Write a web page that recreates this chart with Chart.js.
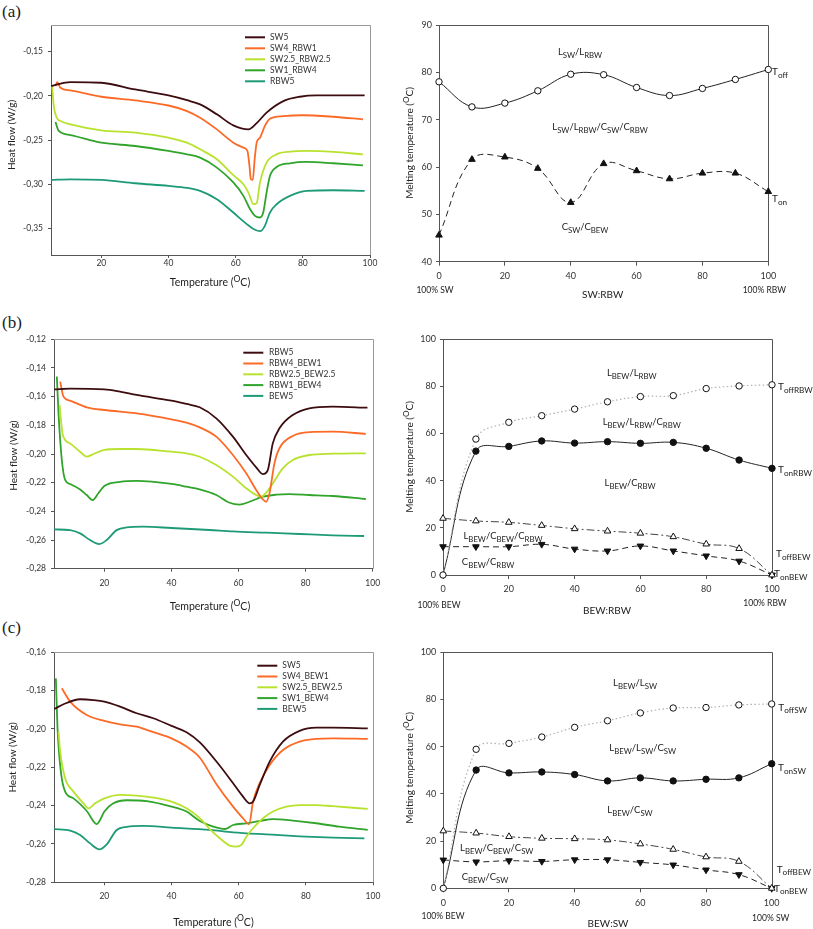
<!DOCTYPE html>
<html lang="en">
<head>
<meta charset="UTF-8">
<title>DSC curves and melting temperatures</title>
<script src="https://cdn.jsdelivr.net/npm/chart.js"></script>
<style>
  body { margin: 0; background: #fff; }
  #page { position: relative; width: 813px; height: 929px; overflow: hidden; }
  canvas { position: absolute; }
  .tag { position: absolute; font-family: "Liberation Serif", serif; font-size: 17px; color: #222; }
</style>
</head>
<body>
<div id="page">
  <div class="tag" style="left:2px;top:2px">(a)</div>
  <div class="tag" style="left:2px;top:313px">(b)</div>
  <div class="tag" style="left:2px;top:618px">(c)</div>
  <canvas id="aDsc" width="400" height="300" style="left:0;top:0"></canvas>
  <canvas id="aMelt" width="413" height="300" style="left:400px;top:0"></canvas>
  <canvas id="bDsc" width="400" height="315" style="left:0;top:300px"></canvas>
  <canvas id="bMelt" width="413" height="315" style="left:400px;top:300px"></canvas>
  <canvas id="cDsc" width="400" height="319" style="left:0;top:610px"></canvas>
  <canvas id="cMelt" width="413" height="319" style="left:400px;top:610px"></canvas>
</div>

<script>
// ---- tick labels ----
const dscTicksX = [20, 40, 60, 80, 100];
const aTicksY = [-0.35, -0.30, -0.25, -0.20, -0.15];
const bTicksY = [-0.28, -0.26, -0.24, -0.22, -0.20, -0.18, -0.16, -0.14, -0.12];
const cTicksY = [-0.28, -0.26, -0.24, -0.22, -0.20, -0.18, -0.16];
const meltTicksX = [0, 20, 40, 60, 80, 100];
const aMeltTicksY = [40, 50, 60, 70, 80, 90];
const bcMeltTicksY = [0, 20, 40, 60, 80, 100];

// ---- (a) DSC, SW:RBW blends ----
const aNames = ['SW5', 'SW4_RBW1', 'SW2.5_RBW2.5', 'SW1_RBW4', 'RBW5'];
const aSW5_t = [5.05, 10.8, 20, 30.1, 40, 45.5, 49.4, 54.4, 59.3, 63.8, 66.25, 69.2, 74.2, 79.1, 84.1, 89, 98.4];
const aSW5 = [-0.189, -0.1846, -0.1853, -0.1929, -0.1996, -0.205, -0.2098, -0.221, -0.2335, -0.238, -0.231, -0.219, -0.206, -0.2011, -0.1996, -0.1996, -0.1996];
const aSW4_t = [6.33, 6.83, 7.82, 10.8, 20, 30.1, 40, 45.5, 49.4, 54.4, 59.3, 62.3, 63.5, 64.1, 64.5, 65.1, 65.65, 66.25, 67.24, 68.7, 70.2, 74.2, 79.8, 89, 97.9];
const aSW4 = [-0.189, -0.1846, -0.191, -0.194, -0.2011, -0.2053, -0.211, -0.2173, -0.2248, -0.238, -0.253, -0.2586, -0.2624, -0.279, -0.294, -0.295, -0.2718, -0.253, -0.2474, -0.234, -0.226, -0.223, -0.222, -0.2237, -0.2267];
const aSW25_t = [5.34, 5.84, 6.83, 7.82, 10.8, 20, 30.1, 40, 45.5, 49.4, 54.4, 59.3, 62.3, 63.8, 65.3, 66.25, 67.24, 69.2, 72.2, 76.15, 81.1, 89, 97.9];
const aSW25 = [-0.189, -0.2117, -0.2256, -0.2286, -0.2323, -0.239, -0.2417, -0.2474, -0.253, -0.2605, -0.2718, -0.2898, -0.30, -0.3094, -0.3226, -0.3214, -0.298, -0.2756, -0.2662, -0.2632, -0.2624, -0.2635, -0.2662];
const aSW1_t = [6.33, 7.32, 10.8, 20, 30.1, 40, 45.5, 49.4, 54.4, 59.3, 62.3, 64.3, 65.75, 67.24, 68.2, 69.2, 70.2, 72.2, 76.15, 81.1, 89, 97.9];
const aSW1 = [-0.2297, -0.2398, -0.2444, -0.253, -0.2568, -0.2624, -0.2662, -0.27, -0.2812, -0.298, -0.3132, -0.3282, -0.3357, -0.3376, -0.332, -0.3094, -0.2906, -0.2805, -0.2763, -0.2748, -0.2763, -0.2786];
const aRBW5_t = [5.05, 10.8, 20, 30.1, 40, 45.5, 49.4, 54.4, 59.3, 63.3, 65.75, 67.24, 68.7, 70.2, 72.2, 76.15, 81.1, 89, 98.4];
const aRBW5 = [-0.2951, -0.2944, -0.2951, -0.2989, -0.3019, -0.3041, -0.3075, -0.3169, -0.332, -0.3451, -0.3515, -0.353, -0.347, -0.332, -0.3226, -0.3132, -0.3075, -0.3068, -0.3075];

// ---- (b) DSC, RBW:BEW blends ----
const bNames = ['RBW5', 'RBW4_BEW1', 'RBW2.5_BEW2.5', 'RBW1_BEW4', 'BEW5'];
const bRBW5_t = [5.06, 9.81, 20, 24.66, 29.62, 40, 44.47, 48.43, 53.38, 58.33, 62.3, 65.27, 67.25, 68.73, 70.22, 72.2, 76.16, 81.11, 88.04, 98.44];
const bRBW5 = [-0.1549, -0.1544, -0.1549, -0.1565, -0.1588, -0.1628, -0.1651, -0.1674, -0.1751, -0.1879, -0.2007, -0.2093, -0.214, -0.2112, -0.1926, -0.1821, -0.1728, -0.1681, -0.167, -0.1677];
const bRBW4_t = [6.84, 7.83, 9.81, 14.76, 20, 29.62, 40, 44.47, 48.43, 53.38, 58.33, 62.3, 65.27, 67.25, 68.24, 69.23, 70.71, 72.2, 76.16, 81.11, 88.04, 97.95];
const bRBW4 = [-0.1495, -0.16, -0.1628, -0.1674, -0.1693, -0.1716, -0.1758, -0.1781, -0.1814, -0.1879, -0.2007, -0.2135, -0.2251, -0.2316, -0.2333, -0.2274, -0.2065, -0.196, -0.1874, -0.1847, -0.1844, -0.186];
const bRBW25_t = [6.64, 7.63, 9.81, 12.78, 14.76, 16.74, 20, 24.66, 29.62, 40, 44.47, 48.43, 53.38, 58.33, 62.3, 65.27, 66.75, 68.24, 70.22, 73.19, 76.16, 81.11, 88.04, 97.95];
const bRBW25 = [-0.1658, -0.1867, -0.1926, -0.1984, -0.2019, -0.20, -0.1972, -0.1965, -0.1965, -0.1984, -0.1995, -0.2019, -0.2077, -0.2158, -0.2239, -0.2286, -0.2298, -0.227, -0.2205, -0.21, -0.2042, -0.2007, -0.1998, -0.1995];
const bRBW1_t = [5.85, 6.34, 7.33, 8.32, 9.81, 12.78, 14.76, 16.54, 18.23, 20, 24.66, 29.62, 40, 44.47, 48.43, 53.38, 57.34, 60.31, 63.29, 67.25, 71.21, 75.17, 81.11, 88.04, 97.95];
const bRBW1 = [-0.146, -0.1716, -0.2042, -0.2181, -0.2209, -0.2247, -0.2286, -0.2321, -0.2274, -0.2223, -0.2195, -0.2188, -0.2209, -0.2228, -0.2247, -0.2286, -0.234, -0.2353, -0.2333, -0.2298, -0.2284, -0.228, -0.2286, -0.2293, -0.2314];
const bBEW5_t = [5.06, 9.81, 12.78, 15.75, 18.52, 20.7, 23.67, 26.65, 31.6, 40, 51.4, 58.33, 68.24, 78.14, 88.04, 97.45];
const bBEW5 = [-0.2526, -0.2531, -0.2554, -0.26, -0.2628, -0.26, -0.2531, -0.2512, -0.2507, -0.2516, -0.253, -0.254, -0.2549, -0.2558, -0.2567, -0.2572];

// ---- (c) DSC, SW:BEW blends ----
const cNames = ['SW5', 'SW4_BEW1', 'SW2.5_BEW2.5', 'SW1_BEW4', 'BEW5'];
const cSW5_t = [5.06, 7.83, 12.78, 16.74, 20, 24.66, 29.62, 34.57, 40, 44.47, 48.43, 53.38, 58.33, 61.3, 63.29, 64.27, 66.26, 69.23, 73.19, 78.14, 83.09, 88.04, 98.44];
const cSW5 = [-0.1896, -0.1871, -0.1845, -0.1849, -0.1857, -0.1883, -0.1918, -0.1944, -0.1984, -0.2017, -0.207, -0.217, -0.2283, -0.2353, -0.2388, -0.238, -0.2292, -0.217, -0.2066, -0.201, -0.1993, -0.1993, -0.1997];
const cSW4_t = [7.33, 9.81, 14.76, 20, 24.66, 29.62, 32.59, 34.57, 40, 44.47, 48.43, 53.38, 58.33, 61.3, 63.09, 64.27, 66.26, 69.23, 73.19, 78.14, 83.09, 88.04, 98.44];
const cSW4 = [-0.1788, -0.1857, -0.1927, -0.1958, -0.1976, -0.1988, -0.2005, -0.2017, -0.2049, -0.2092, -0.215, -0.2288, -0.2405, -0.2466, -0.2497, -0.238, -0.2283, -0.2188, -0.211, -0.2066, -0.2052, -0.2049, -0.2052];
const cSW25_t = [6.34, 6.84, 8.32, 10.8, 13.77, 15.26, 17.24, 20, 24.66, 29.62, 34.57, 40, 44.47, 48.43, 51.4, 54.37, 57.34, 59.32, 60.81, 62.3, 64.27, 67.25, 70.22, 74.18, 78.14, 83.09, 88.04, 98.44];
const cSW25 = [-0.2014, -0.2118, -0.2257, -0.2327, -0.2388, -0.2414, -0.2388, -0.2362, -0.2344, -0.2348, -0.2358, -0.2379, -0.2414, -0.2466, -0.2522, -0.257, -0.2609, -0.2614, -0.2605, -0.2562, -0.2518, -0.2466, -0.2431, -0.2405, -0.2397, -0.2397, -0.2403, -0.2417];
const cSW1_t = [5.55, 6.05, 7.04, 8.32, 10.8, 14.76, 17.73, 18.72, 20, 22.68, 26.65, 32.59, 40, 44.47, 48.43, 52.39, 55.86, 58.33, 62.3, 66.26, 70.22, 76.16, 83.09, 90.02, 98.44];
const cSW1 = [-0.1736, -0.1997, -0.2223, -0.2327, -0.2362, -0.2428, -0.2496, -0.2475, -0.2431, -0.2388, -0.2372, -0.2376, -0.2405, -0.2431, -0.248, -0.2509, -0.2522, -0.2501, -0.2492, -0.248, -0.247, -0.2478, -0.2492, -0.251, -0.2527];
const cBEW5_t = [5.06, 9.81, 12.78, 15.75, 18.52, 20.7, 23.67, 26.65, 31.6, 40, 51.4, 58.33, 68.24, 78.14, 88.04, 97.45];
const cBEW5 = [-0.2523, -0.253, -0.2553, -0.2597, -0.2628, -0.2602, -0.2527, -0.2511, -0.2506, -0.2515, -0.2527, -0.2539, -0.255, -0.256, -0.2567, -0.2571];

// ---- melting temperatures vs blend ratio ----
const ratio = [0, 10, 20, 30, 40, 50, 60, 70, 80, 90, 100];
const aToff = [78.0, 72.7, 73.5, 76.1, 79.6, 79.5, 76.8, 75.1, 76.6, 78.5, 80.6];
const aTon = [45.6, 61.6, 62.1, 59.7, 52.5, 60.7, 59.2, 57.5, 58.7, 58.7, 54.8];
const bToffRBW = [0, 57.6, 64.7, 67.5, 70.3, 73.4, 75.6, 76.0, 79.0, 80.1, 80.6];
const bTonRBW = [0, 52.5, 54.5, 56.8, 55.9, 56.5, 55.8, 56.2, 53.7, 48.7, 45.2];
const bToffBEW = [24.0, 22.9, 22.3, 21.0, 19.6, 18.6, 17.7, 16.2, 13.1, 11.2, 0];
const bTonBEW = [12.0, 12.0, 12.0, 13.0, 11.0, 10.2, 12.3, 10.2, 8.1, 5.9, 0];
const cToffSW = [0, 58.9, 61.4, 64.1, 68.2, 71.0, 74.3, 76.4, 76.6, 77.7, 78.1];
const cTonSW = [0, 50.1, 48.9, 49.3, 48.2, 45.5, 46.8, 45.5, 46.2, 46.8, 52.8];
const cToffBEW = [24.3, 23.4, 21.9, 21.2, 21.0, 20.5, 18.8, 16.5, 13.3, 11.4, 0];
const cTonBEW = [12.0, 11.2, 11.7, 11.4, 12.1, 12.1, 11.0, 9.9, 7.8, 5.8, 0];

const curveColors = ['#3d0c10', '#fc6a26', '#b9e22e', '#30a42b', '#1d9a76'];
const FONT = 'Lato, "Open Sans", sans-serif';

// text with _{sub} and ^{sup} parts
function parseRich(str) {
  const parts = [];
  const re = /([_^])\{([^}]*)\}|([^_^]+)/g;
  let m;
  while ((m = re.exec(str))) {
    if (m[3]) parts.push({ t: m[3], k: 'n' });
    else parts.push({ t: m[2], k: m[1] === '_' ? 'sub' : 'sup' });
  }
  return parts;
}

function drawRich(ctx, str, x, y, size, align, color) {
  const parts = parseRich(str);
  const small = size * 0.82;
  let w = 0;
  parts.forEach(p => {
    ctx.font = (p.k === 'n' ? size : small) + 'px ' + FONT;
    p.w = ctx.measureText(p.t).width;
    w += p.w;
  });
  let cx = align === 'center' ? x - w / 2 : (align === 'right' ? x - w : x);
  ctx.fillStyle = color || '#222';
  ctx.textBaseline = 'middle';
  ctx.textAlign = 'left';
  parts.forEach(p => {
    ctx.font = (p.k === 'n' ? size : small) + 'px ' + FONT;
    const dy = p.k === 'sub' ? size * 0.35 : (p.k === 'sup' ? -size * 0.4 : 0);
    ctx.fillText(p.t, cx, y + dy);
    cx += p.w;
  });
}

// frame, titles, annotations and legend
function decor(d) {
  return {
    id: 'decor',
    beforeDatasetsDraw(chart) {
      const a = chart.chartArea, ctx = chart.ctx;
      const t = Math.round(a.top) + 0.5, r = Math.round(a.right) + 0.5;
      ctx.save();
      ctx.strokeStyle = d.frame;
      ctx.lineWidth = 1;
      ctx.beginPath();
      ctx.moveTo(a.left, t);
      ctx.lineTo(r, t);
      ctx.lineTo(r, a.bottom);
      ctx.stroke();
      ctx.restore();
    },
    afterDraw(chart) {
      const ctx = chart.ctx;
      ctx.save();
      (d.texts || []).forEach(tx => {
        if (tx.rot) {
          ctx.save();
          ctx.translate(tx.x, tx.y);
          ctx.rotate(-Math.PI / 2);
          drawRich(ctx, tx.s, 0, 0, tx.size, 'center', '#222');
          ctx.restore();
        } else {
          drawRich(ctx, tx.s, tx.x, tx.y, tx.size, tx.align || 'center', '#222');
        }
      });
      if (d.legend) {
        const L = d.legend;
        chart.data.datasets.forEach((ds, i) => {
          const y = L.y + i * L.step;
          ctx.strokeStyle = ds.borderColor;
          ctx.lineWidth = 2;
          ctx.beginPath();
          ctx.moveTo(L.x, y);
          ctx.lineTo(L.x + 20, y);
          ctx.stroke();
          ctx.fillStyle = '#333';
          ctx.font = '8.5px ' + FONT;
          ctx.textAlign = 'left';
          ctx.textBaseline = 'middle';
          ctx.fillText(ds.label, L.tx, y);
        });
      }
      ctx.restore();
    }
  };
}

function axis(min, max, ticks, fmt, size, fit, tl, pad) {
  return {
    type: 'linear',
    min: min,
    max: max,
    afterBuildTicks: s => { s.ticks = ticks.map(v => ({ value: v })); },
    afterFit: fit,
    grid: { drawOnChartArea: false, drawTicks: true, tickLength: tl, color: '#555' },
    border: { display: true, color: '#555', width: 1 },
    ticks: { color: '#333', font: { family: FONT, size: size }, padding: pad, maxRotation: 0, autoSkip: false, callback: fmt }
  };
}

const comma = v => v.toFixed(2).replace('.', ',');
const plain = v => String(v);

function dscChart(id, names, ts, vs, yMin, yMax, yTicks, lay, deco) {
  new Chart(document.getElementById(id), {
    type: 'line',
    data: {
      datasets: names.map((n, i) => ({
        label: n,
        data: ts[i].map((t, j) => ({ x: t, y: vs[i][j] })),
        borderColor: curveColors[i],
        borderWidth: 1.8,
        pointRadius: 0,
        cubicInterpolationMode: 'monotone',
        fill: false
      }))
    },
    options: {
      responsive: false,
      animation: false,
      layout: { padding: { left: 0, right: lay.right, top: lay.top, bottom: 0 } },
      plugins: { legend: { display: false }, tooltip: { enabled: false } },
      scales: {
        x: axis(5, 100, dscTicksX, plain, 8.5, s => { s.height = lay.xh; }, 3, lay.xpad),
        y: axis(yMin, yMax, yTicks, comma, 8.5, s => { s.width = lay.yw; }, 3, 5)
      }
    },
    plugins: [decor(deco)]
  });
}

function meltSet(label, values, kind) {
  const base = {
    label: label,
    data: ratio.map((r, j) => ({ x: r, y: values[j] })),
    borderWidth: 1,
    tension: 0.4,
    clip: false,
    pointBorderColor: '#111',
    pointBorderWidth: 1,
    pointRadius: 3.2,
    fill: false
  };
  const k = {
    offSolid: { borderColor: '#222', pointStyle: 'circle', pointBackgroundColor: '#fff' },
    onDashUp: { borderColor: '#222', borderDash: [6, 4], pointStyle: 'triangle', pointRadius: 3.8, pointBackgroundColor: '#111' },
    offDotted: { borderColor: '#b0b0b0', borderDash: [1.5, 2.5], borderWidth: 1.2, pointStyle: 'circle', pointBackgroundColor: '#fff' },
    onSolid: { borderColor: '#222', pointStyle: 'circle', pointBackgroundColor: '#111', pointRadius: c => (c.dataIndex === 0 ? 0 : 3.2) },
    offDashDot: { borderColor: '#444', borderDash: [8, 3, 2, 3], pointStyle: 'triangle', pointRadius: 3.8, pointBackgroundColor: '#fff' },
    onDashDown: { borderColor: '#222', borderDash: [6, 4], pointStyle: 'triangle', pointRotation: 180, pointRadius: 3.8, pointBackgroundColor: '#111' }
  }[kind];
  return Object.assign(base, k);
}

function meltChart(id, sets, yMin, yMax, yTicks, lay, deco) {
  new Chart(document.getElementById(id), {
    type: 'line',
    data: { datasets: sets },
    options: {
      responsive: false,
      animation: false,
      layout: { padding: { left: 0, right: lay.right, top: lay.top, bottom: 0 } },
      plugins: { legend: { display: false }, tooltip: { enabled: false } },
      scales: {
        x: axis(0, 100, meltTicksX, plain, 9, s => { s.height = lay.xh; }, 4, lay.xpad),
        y: axis(yMin, yMax, yTicks, plain, 9, s => { s.width = lay.yw; }, 3, 4)
      }
    },
    plugins: [decor(deco)]
  });
}

// ---- (a) ----
dscChart('aDsc', aNames, [aSW5_t, aSW4_t, aSW25_t, aSW1_t, aRBW5_t], [aSW5, aSW4, aSW25, aSW1, aRBW5],
  -0.38, -0.12, aTicksY,
  { yw: 51, xh: 45, top: 25, right: 30, xpad: 0 },
  {
    frame: '#999',
    legend: { x: 245, tx: 270, y: 37.3, step: 11 },
    texts: [
      { s: 'Heat flow (W/g)', x: 12, y: 135, size: 10, rot: true },
      { s: 'Temperature (^{O}C)', x: 210, y: 283, size: 10.5 }
    ]
  });

meltChart('aMelt', [meltSet('Toff', aToff, 'offSolid'), meltSet('Ton', aTon, 'onDashUp')],
  40, 90, aMeltTicksY,
  { yw: 39, xh: 38.3, top: 25, right: 44.7, xpad: 5 },
  {
    frame: '#555',
    texts: [
      { s: 'Melting temperature (^{O}C)', x: 10, y: 143, size: 10, rot: true },
      { s: 'SW:RBW', x: 202.7, y: 295, size: 10 },
      { s: '100% SW', x: 35, y: 290, size: 8.5 },
      { s: '100% RBW', x: 364.3, y: 290, size: 8.5 },
      { s: 'L_{SW}/L_{RBW}', x: 180, y: 52, size: 9.5 },
      { s: 'L_{SW}/L_{RBW}/C_{SW}/C_{RBW}', x: 200, y: 127, size: 9.5 },
      { s: 'C_{SW}/C_{BEW}', x: 185, y: 227, size: 9.5 },
      { s: 'T_{off}', x: 372, y: 72, size: 10, align: 'left' },
      { s: 'T_{on}', x: 372, y: 199, size: 10, align: 'left' }
    ]
  });

// ---- (b) ----
dscChart('bDsc', bNames, [bRBW5_t, bRBW4_t, bRBW25_t, bRBW1_t, bBEW5_t], [bRBW5, bRBW4, bRBW25, bRBW1, bBEW5],
  -0.28, -0.12, bTicksY,
  { yw: 54, xh: 46.3, top: 39.3, right: 27.3, xpad: 6 },
  {
    frame: '#999',
    legend: { x: 243.3, tx: 269, y: 52.7, step: 10.8 },
    texts: [
      { s: 'Heat flow (W/g)', x: 14, y: 155.6, size: 10, rot: true },
      { s: 'Temperature (^{O}C)', x: 210, y: 307, size: 10.5 }
    ]
  });

meltChart('bMelt', [
    meltSet('ToffRBW', bToffRBW, 'offDotted'),
    meltSet('TonRBW', bTonRBW, 'onSolid'),
    meltSet('ToffBEW', bToffBEW, 'offDashDot'),
    meltSet('TonBEW', bTonBEW, 'onDashDown')
  ],
  0, 100, bcMeltTicksY,
  { yw: 43, xh: 40, top: 39, right: 41, xpad: 5 },
  {
    frame: '#555',
    texts: [
      { s: 'Melting temperature (^{O}C)', x: 10, y: 157, size: 10, rot: true },
      { s: 'BEW:RBW', x: 207, y: 311, size: 10 },
      { s: '100% BEW', x: 39, y: 305, size: 8.5 },
      { s: '100% RBW', x: 365, y: 303, size: 8.5 },
      { s: 'L_{BEW}/L_{RBW}', x: 231.7, y: 72.7, size: 9.5 },
      { s: 'L_{BEW}/L_{RBW}/C_{RBW}', x: 241.7, y: 122, size: 9.5 },
      { s: 'L_{BEW}/C_{RBW}', x: 230, y: 183, size: 9.5 },
      { s: 'L_{BEW}/C_{BEW}/C_{RBW}', x: 103, y: 236, size: 9.5 },
      { s: 'C_{BEW}/C_{RBW}', x: 88, y: 261.7, size: 9.5 },
      { s: 'T_{offRBW}', x: 378, y: 86.7, size: 10, align: 'left' },
      { s: 'T_{onRBW}', x: 378, y: 170, size: 10, align: 'left' },
      { s: 'T_{offBEW}', x: 376, y: 254, size: 10, align: 'left' },
      { s: 'T_{onBEW}', x: 374, y: 274, size: 10, align: 'left' }
    ]
  });

// ---- (c) ----
dscChart('cDsc', cNames, [cSW5_t, cSW4_t, cSW25_t, cSW1_t, cBEW5_t], [cSW5, cSW4, cSW25, cSW1, cBEW5],
  -0.28, -0.16, cTicksY,
  { yw: 54, xh: 46.7, top: 42.3, right: 27, xpad: 6 },
  {
    frame: '#999',
    legend: { x: 257.3, tx: 282.3, y: 55.7, step: 10.8 },
    texts: [
      { s: 'Heat flow (W/g)', x: 13, y: 147.5, size: 10, rot: true },
      { s: 'Temperature (^{O}C)', x: 213.5, y: 312.7, size: 10.5 }
    ]
  });

meltChart('cMelt', [
    meltSet('ToffSW', cToffSW, 'offDotted'),
    meltSet('TonSW', cTonSW, 'onSolid'),
    meltSet('ToffBEW', cToffBEW, 'offDashDot'),
    meltSet('TonBEW', cTonBEW, 'onDashDown')
  ],
  0, 100, bcMeltTicksY,
  { yw: 43.3, xh: 40.7, top: 42.3, right: 41.3, xpad: 5 },
  {
    frame: '#555',
    texts: [
      { s: 'Melting temperature (^{O}C)', x: 10, y: 158, size: 10, rot: true },
      { s: 'BEW:SW', x: 208, y: 313.3, size: 10 },
      { s: '100% BEW', x: 43, y: 306, size: 8.5 },
      { s: '100% SW', x: 370.7, y: 308.3, size: 8.5 },
      { s: 'L_{BEW}/L_{SW}', x: 235, y: 72.7, size: 9.5 },
      { s: 'L_{BEW}/L_{SW}/C_{SW}', x: 242.7, y: 138.3, size: 9.5 },
      { s: 'L_{BEW}/C_{SW}', x: 230, y: 200, size: 9.5 },
      { s: 'L_{BEW}/C_{BEW}/C_{SW}', x: 96.7, y: 238.3, size: 9.5 },
      { s: 'C_{BEW}/C_{SW}', x: 85, y: 266.7, size: 9.5 },
      { s: 'T_{offSW}', x: 378.3, y: 97.3, size: 10, align: 'left' },
      { s: 'T_{onSW}', x: 378, y: 157.7, size: 10, align: 'left' },
      { s: 'T_{offBEW}', x: 376.7, y: 259.3, size: 10, align: 'left' },
      { s: 'T_{onBEW}', x: 374, y: 278.3, size: 10, align: 'left' }
    ]
  });
</script>
</body>
</html>
